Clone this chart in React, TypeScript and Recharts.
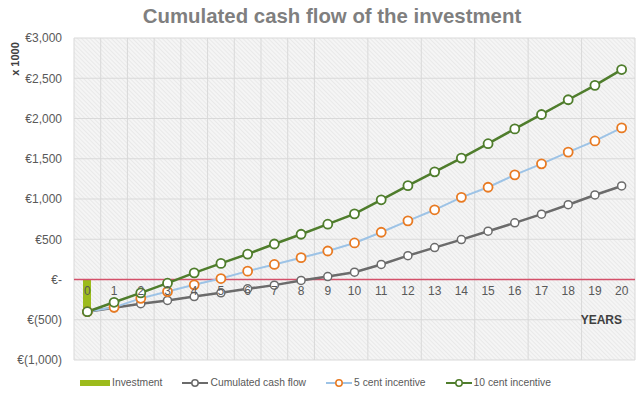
import {
  ComposedChart,
  Bar,
  Line,
  XAxis,
  YAxis,
  CartesianGrid,
  ReferenceLine,
  LabelList,
  Legend,
} from "recharts";

const years = [0, 1, 2, 3, 4, 5, 6, 7, 8, 9, 10, 11, 12, 13, 14, 15, 16, 17, 18, 19, 20];
const investment = [-400, null, null, null, null, null, null, null, null, null, null, null, null, null, null, null, null, null, null, null, null];
const cashFlow = [-400, -350, -300, -260, -212, -165, -115, -70, -12, 37, 91, 187, 296, 396, 496, 600, 704, 812, 929, 1050, 1162];
const fiveCent = [-400, -346, -234, -150, -66, 12, 104, 187, 271, 354, 454, 587, 729, 866, 1021, 1146, 1300, 1437, 1583, 1721, 1883];
const tenCent = [-400, -283, -166, -46, 83, 200, 316, 441, 562, 687, 816, 990, 1166, 1337, 1508, 1687, 1871, 2050, 2233, 2412, 2608];
const yTicks = [-1000, -500, 0, 500, 1000, 1500, 2000, 2500, 3000];
const gridX = [-0.5, ...years.map((y) => y + 0.5)];

const data = years.map((y, i) => ({
  year: y,
  investment: investment[i],
  cash: cashFlow[i],
  five: fiveCent[i],
  ten: tenCent[i],
  zero: 0,
}));

const FONT = "'Liberation Sans', Arial, sans-serif";

const fmtEuro = (v: number) => {
  if (v === 0) return "€-";
  const s = Math.abs(v).toLocaleString("en-US");
  return v < 0 ? `€(${s})` : `€${s}`;
};

const legendItems = [
  { label: "Investment", kind: "bar", stroke: "#9cbb1c", dot: "" },
  { label: "Cumulated cash flow", kind: "line", stroke: "#6b6b6b", dot: "#6b6b6b" },
  { label: "5 cent incentive", kind: "line", stroke: "#9dc3e6", dot: "#e87a22" },
  { label: "10 cent incentive", kind: "line", stroke: "#4f7d2c", dot: "#4f7d2c" },
];

function LegendContent() {
  return (
    <div
      style={{
        display: "flex",
        justifyContent: "center",
        gap: 20,
        fontFamily: FONT,
        fontSize: 10.3,
        color: "#595959",
        paddingTop: 17,
        paddingRight: 4,
      }}
    >
      {legendItems.map((it) => (
        <div key={it.label} style={{ display: "flex", alignItems: "center", gap: 2 }}>
          <svg width={it.kind === "bar" ? 30 : 26} height={10}>
            {it.kind === "bar" ? (
              <rect x={0} y={2} width={30} height={6} fill={it.stroke} />
            ) : (
              <>
                <line x1={0} y1={5} x2={26} y2={5} stroke={it.stroke} strokeWidth={2} />
                <circle cx={13} cy={5} r={3.2} fill="#fff" stroke={it.dot} strokeWidth={1.5} />
              </>
            )}
          </svg>
          <span>{it.label}</span>
        </div>
      ))}
    </div>
  );
}

export default function App() {
  return (
    <div style={{ position: "absolute", left: 0, top: 0, width: 638, height: 399, background: "#fff" }}>
      <div
        style={{
          position: "absolute",
          top: 5,
          left: 0,
          width: 664,
          textAlign: "center",
          fontFamily: FONT,
          fontWeight: "bold",
          fontSize: 20.4,
          color: "#7f7f7f",
        }}
      >
        Cumulated cash flow of the investment
      </div>
      <div
        style={{
          position: "absolute",
          left: -5,
          top: 53,
          width: 40,
          textAlign: "center",
          transform: "rotate(-90deg)",
          fontFamily: FONT,
          fontWeight: "bold",
          fontSize: 11,
          color: "#404040",
        }}
      >
        x 1000
      </div>
      <ComposedChart
        width={638}
        height={399}
        data={data}
        margin={{ top: 38, right: 3, bottom: 9, left: 0 }}
        style={{ fontFamily: FONT }}
      >
        <defs>
          <pattern id="hatch" width="3" height="3" patternUnits="userSpaceOnUse" patternTransform="rotate(-45)">
            <rect width="3" height="3" fill="#f5f5f5" />
            <line x1="0" y1="0" x2="0" y2="3" stroke="#e2e2e2" strokeWidth="1.2" />
          </pattern>
        </defs>
        <CartesianGrid stroke="#d9d9d9" strokeWidth={1} fill="url(#hatch)" fillOpacity={1} />
        <XAxis dataKey="year" type="number" domain={[-0.5, 20.5]} ticks={gridX} hide />
        <YAxis
          domain={[-1000, 3000]}
          ticks={yTicks}
          tickFormatter={fmtEuro}
          axisLine={false}
          tickLine={false}
          width={74}
          tickMargin={6}
          tick={{ fill: "#595959", fontSize: 12 }}
          interval={0}
        />
        <Legend verticalAlign="bottom" height={30} content={<LegendContent />} />
        <ReferenceLine y={0} stroke="#d4506a" strokeWidth={1.5} />
        <ReferenceLine
          y={-500}
          strokeOpacity={0}
          label={{ value: "YEARS", position: "insideRight", fill: "#404040", fontSize: 12, fontWeight: "bold", dx: -8 }}
        />
        <Bar dataKey="investment" fill="#9cbb1c" barSize={8} isAnimationActive={false} />
        <Line dataKey="zero" stroke="none" dot={false} activeDot={false} isAnimationActive={false}>
          <LabelList dataKey="year" position="bottom" offset={7} fill="#595959" fontSize={12} />
        </Line>
        <Line
          dataKey="cash"
          stroke="#6b6b6b"
          strokeWidth={2.5}
          dot={{ r: 4, fill: "#fff", stroke: "#6b6b6b", strokeWidth: 1.5 }}
          isAnimationActive={false}
        />
        <Line
          dataKey="five"
          stroke="#9dc3e6"
          strokeWidth={2}
          dot={{ r: 4.5, fill: "#fff", stroke: "#e87a22", strokeWidth: 1.8 }}
          isAnimationActive={false}
        />
        <Line
          dataKey="ten"
          stroke="#4f7d2c"
          strokeWidth={2.5}
          dot={{ r: 4.5, fill: "#fff", stroke: "#4f7d2c", strokeWidth: 1.8 }}
          isAnimationActive={false}
        />
      </ComposedChart>
    </div>
  );
}
